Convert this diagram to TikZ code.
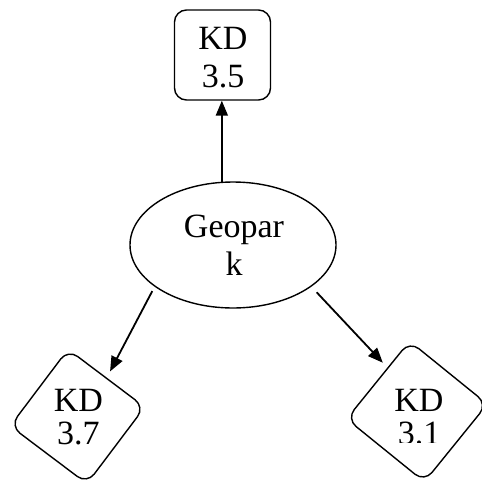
\documentclass[tikz,border=0pt]{standalone}
\usepackage{fontspec}
\setmainfont{Liberation Serif}
\usetikzlibrary{arrows.meta,shapes.geometric}
\begin{document}
\begin{tikzpicture}[x=1pt,y=-1pt,
  box/.style={draw, line width=1.4pt, rounded corners=12pt, inner sep=0pt},
  lbl/.style={align=center, inner sep=0pt, font=\fontsize{34}{38}\selectfont},
  dlbl/.style={align=center, inner sep=0pt, font=\fontsize{34}{33}\selectfont},
  arr/.style={-{Triangle[length=15pt,width=12pt]}, line width=1.8pt}]
\useasboundingbox (0,0) rectangle (482,480);
\node[box, minimum width=96pt, minimum height=90pt] (kd35) at (222.5,55) {};
\node[lbl] (t35) at (223,58) {KD\\3.5};
\node[draw, ellipse, line width=1.4pt, minimum width=206pt, minimum height=126pt, inner sep=0pt] (geo) at (233,245) {};
\node[lbl] (tgeo) at (234,245) {Geopar\\k};
\node[box, minimum size=96pt, rotate=-37] (kd37) at (77.5,416.5) {};
\node[dlbl] (t37) at (78.5,417) {KD\\3.7};
\node[box, minimum size=100pt, rotate=-39] (kd31) at (417,411.5) {};
\begin{scope}
\clip (360,380) rectangle (470,442.5);
\node[dlbl] (t31) at (419,417) {KD\\3.1};
\end{scope}
\draw[arr] (geo.100) -- (geo.100 |- kd35.south);
\draw[arr, shorten <=5pt, shorten >=7pt] (geo.208) -- (kd37.north);
\draw[arr, shorten <=7.7pt, shorten >=6.6pt] (geo.-28) -- (kd31.163);
\end{tikzpicture}
\end{document}
